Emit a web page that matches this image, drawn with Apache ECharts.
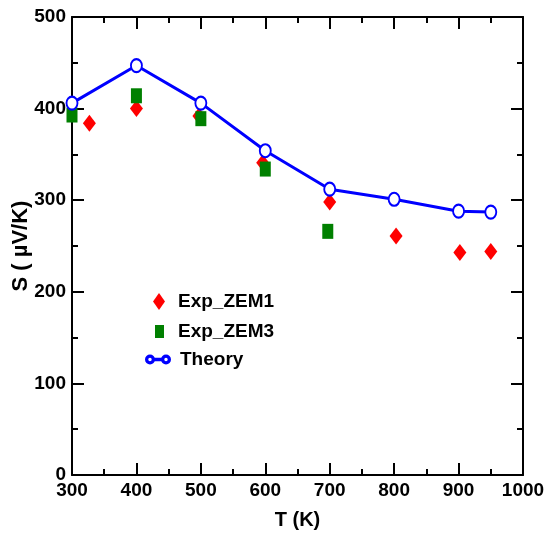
<!DOCTYPE html>
<html><head><meta charset="utf-8">
<script src="https://cdn.jsdelivr.net/npm/echarts@6/dist/echarts.min.js"></script>
<style>html,body{margin:0;padding:0;background:#fff}#c{width:547px;height:537px}</style>
</head><body><div id="c"></div>
<script>
const zem1T = [327, 400, 497, 596, 700, 803, 902, 950];
const zem1S = [384, 400, 392, 341, 298, 261, 243, 244];
const zem3T = [300, 400, 500, 600, 697];
const zem3S = [393, 414, 389, 334, 266];
const theoryT = [300, 400, 500, 600, 700, 800, 900, 950];
const theoryS = [406, 447, 406, 354, 312, 301, 288, 287];
const xTicks = [300, 400, 500, 600, 700, 800, 900, 1000];
const yTicks = [0, 100, 200, 300, 400, 500];

const FONT = '"Liberation Sans", Arial, Helvetica, sans-serif';
const pair = (a, b) => a.map((v, i) => [v, b[i]]);
const theoryIcon = 'path://M0,5A5,5 0 1,0 10,5A5,5 0 1,0 0,5Z M1.6,5A3.4,3.4 0 1,1 8.4,5A3.4,3.4 0 1,1 1.6,5Z M10,4L20,4L20,6L10,6Z M20,5A5,5 0 1,0 30,5A5,5 0 1,0 20,5Z M21.6,5A3.4,3.4 0 1,1 28.4,5A3.4,3.4 0 1,1 21.6,5Z';

const axisCommon = {
  axisLine: {show: true, onZero: false, lineStyle: {color: '#000', width: 2}},
  axisTick: {show: true, inside: true, length: 12, lineStyle: {color: '#000', width: 2}},
  minorTick: {show: true, splitNumber: 2, length: 6, lineStyle: {color: '#000', width: 2}},
  splitLine: {show: false}
};
const labelStyle = {color: '#000', fontFamily: FONT, fontWeight: 'bold', fontSize: 19, formatter: v => String(v)};
const legendText = {color: '#000', fontFamily: FONT, fontWeight: 'bold', fontSize: 19};

const chart = echarts.init(document.getElementById('c'), null, {renderer: 'canvas'});
chart.setOption({
  animation: false,
  grid: {left: 72, right: 24, top: 17, bottom: 62, containLabel: false, outerBoundsMode: 'none'},
  xAxis: [
    Object.assign({type: 'value', min: xTicks[0], max: xTicks[xTicks.length-1], interval: 100, position: 'bottom',
      name: 'T (K)', nameLocation: 'middle', nameGap: 35, nameMoveOverlap: false,
      nameTextStyle: {color: '#000', fontFamily: FONT, fontWeight: 'bold', fontSize: 20},
      axisLabel: Object.assign({}, labelStyle, {margin: 6})}, axisCommon),
    Object.assign({type: 'value', min: xTicks[0], max: xTicks[xTicks.length-1], interval: 100, position: 'top',
      axisLabel: {show: false}}, axisCommon)
  ],
  yAxis: [
    Object.assign({type: 'value', min: yTicks[0], max: yTicks[yTicks.length-1], interval: 100, position: 'left',
      name: 'S ( \u00b5V/K)', nameLocation: 'middle', nameGap: 40, nameRotate: 90, nameMoveOverlap: false,
      nameTextStyle: {color: '#000', fontFamily: FONT, fontWeight: 'bold', fontSize: 22},
      axisLabel: Object.assign({}, labelStyle, {margin: 6})}, axisCommon),
    Object.assign({type: 'value', min: yTicks[0], max: yTicks[yTicks.length-1], interval: 100, position: 'right',
      axisLabel: {show: false}}, axisCommon)
  ],
  legend: [
    {data: [{name: 'Exp_ZEM1', icon: 'diamond'}], orient: 'vertical', left: 148, top: 287, itemWidth: 12, itemHeight: 17,
      selectedMode: false, textStyle: Object.assign({padding: [0,0,0,8]}, legendText)},
    {data: [{name: 'Exp_ZEM3', icon: 'rect'}], orient: 'vertical', left: 150, top: 317, itemWidth: 9, itemHeight: 13,
      selectedMode: false, textStyle: Object.assign({padding: [0,0,0,9]}, legendText)},
    {data: [{name: 'Theory', icon: theoryIcon}], orient: 'vertical', left: 140, top: 345, itemWidth: 24, itemHeight: 11,
      selectedMode: false, textStyle: Object.assign({padding: [0,0,0,5]}, legendText)}
  ],
  series: [
    {name: 'Exp_ZEM1', type: 'scatter', data: pair(zem1T, zem1S), symbol: 'diamond', symbolSize: [13, 17],
      itemStyle: {color: '#ff0000', opacity: 1}},
    {name: 'Exp_ZEM3', type: 'scatter', data: pair(zem3T, zem3S), symbol: 'rect', symbolSize: [11, 15],
      itemStyle: {color: '#008000', opacity: 1}},
    {name: 'Theory', type: 'line', data: pair(theoryT, theoryS), symbol: 'emptyCircle', symbolSize: [11, 13],
      showAllSymbol: true,
      lineStyle: {color: '#0000ff', width: 3}, itemStyle: {color: '#0000ff', borderColor: '#0000ff', borderWidth: 2}}
  ]
});
</script></body></html>
